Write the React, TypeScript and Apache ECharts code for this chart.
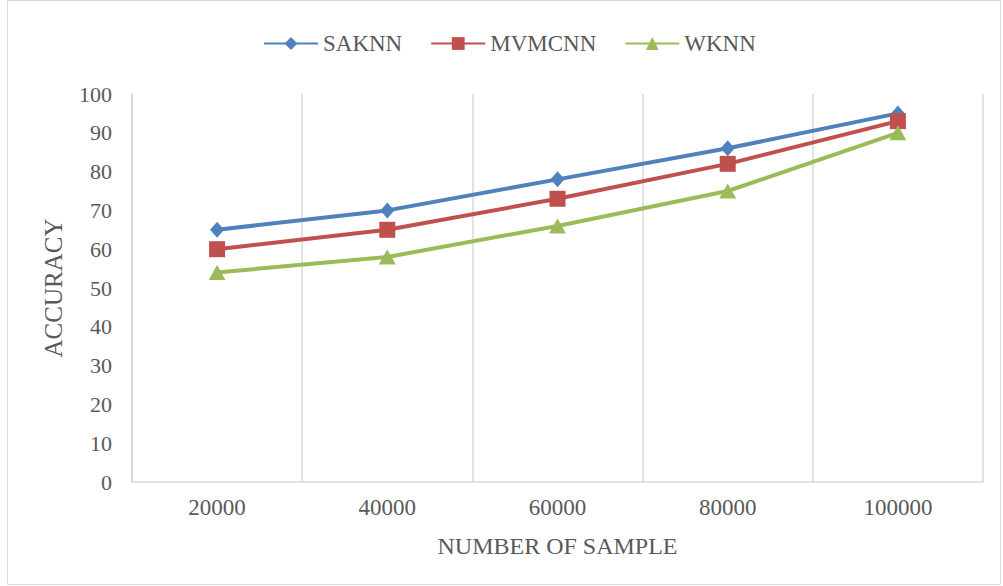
import React, { useEffect, useRef } from "react";
import * as echarts from "echarts";

const categories = ["20000", "40000", "60000", "80000", "100000"];
const saknn = [65, 70, 78, 86, 95];
const mvmcnn = [60, 65, 73, 82, 93];
const wknn = [54, 58, 66, 75, 90];

const FONT = "'Liberation Serif', 'Times New Roman', serif";
const TXT = "#595959";

export default function App() {
  const ref = useRef<HTMLDivElement>(null);
  useEffect(() => {
    if (!ref.current) return;
    const chart = echarts.init(ref.current, undefined, { renderer: "svg" });
    chart.setOption({
      animation: false,
      backgroundColor: "#ffffff",
      graphic: [
        {
          type: "rect",
          shape: { x: 7.5, y: 0.5, width: 993, height: 584 },
          style: { fill: "none", stroke: "#d9d9d9", lineWidth: 1 },
          silent: true,
        },
      ],
      legend: {
        top: 27,
        left: 258,
        itemWidth: 54,
        itemHeight: 16,
        itemGap: 28,
        textStyle: { fontFamily: FONT, fontSize: 23, color: TXT },
        data: ["SAKNN", "MVMCNN", "WKNN"],
      },
      grid: { left: 132, right: 20, top: 94, bottom: 104 },
      xAxis: {
        type: "category",
        data: categories,
        boundaryGap: true,
        name: "NUMBER OF SAMPLE",
        nameLocation: "middle",
        nameGap: 52,
        nameTextStyle: { fontFamily: FONT, fontSize: 24, color: TXT },
        axisLine: { show: true, lineStyle: { color: "#d9d9d9", width: 1.5 } },
        axisTick: { show: false },
        axisLabel: { fontFamily: FONT, fontSize: 23, color: TXT, margin: 14 },
        splitLine: { show: true, lineStyle: { color: "#d9d9d9", width: 1.5 } },
      },
      yAxis: {
        type: "value",
        min: 0,
        max: 100,
        interval: 10,
        name: "ACCURACY",
        nameLocation: "middle",
        nameGap: 66,
        nameTextStyle: { fontFamily: FONT, fontSize: 25, color: TXT },
        axisLine: { show: true, lineStyle: { color: "#d9d9d9", width: 1.5 } },
        axisTick: { show: false },
        axisLabel: { fontFamily: FONT, fontSize: 22, color: TXT, margin: 20 },
        splitLine: { show: false },
      },
      series: [
        {
          name: "SAKNN",
          type: "line",
          data: saknn,
          symbol: "diamond",
          symbolSize: [14, 16],
          itemStyle: { color: "#4F81BD" },
          lineStyle: { width: 4, color: "#4F81BD" },
        },
        {
          name: "MVMCNN",
          type: "line",
          data: mvmcnn,
          symbol: "rect",
          symbolSize: 16,
          itemStyle: { color: "#C0504D" },
          lineStyle: { width: 4, color: "#C0504D" },
        },
        {
          name: "WKNN",
          type: "line",
          data: wknn,
          symbol: "triangle",
          symbolSize: [17, 15],
          itemStyle: { color: "#9BBB59" },
          lineStyle: { width: 4, color: "#9BBB59" },
        },
      ],
    });
    return () => chart.dispose();
  }, []);
  return (
    <div
      ref={ref}
      style={{ position: "absolute", left: 0, top: 0, width: 1003, height: 586 }}
    />
  );
}
